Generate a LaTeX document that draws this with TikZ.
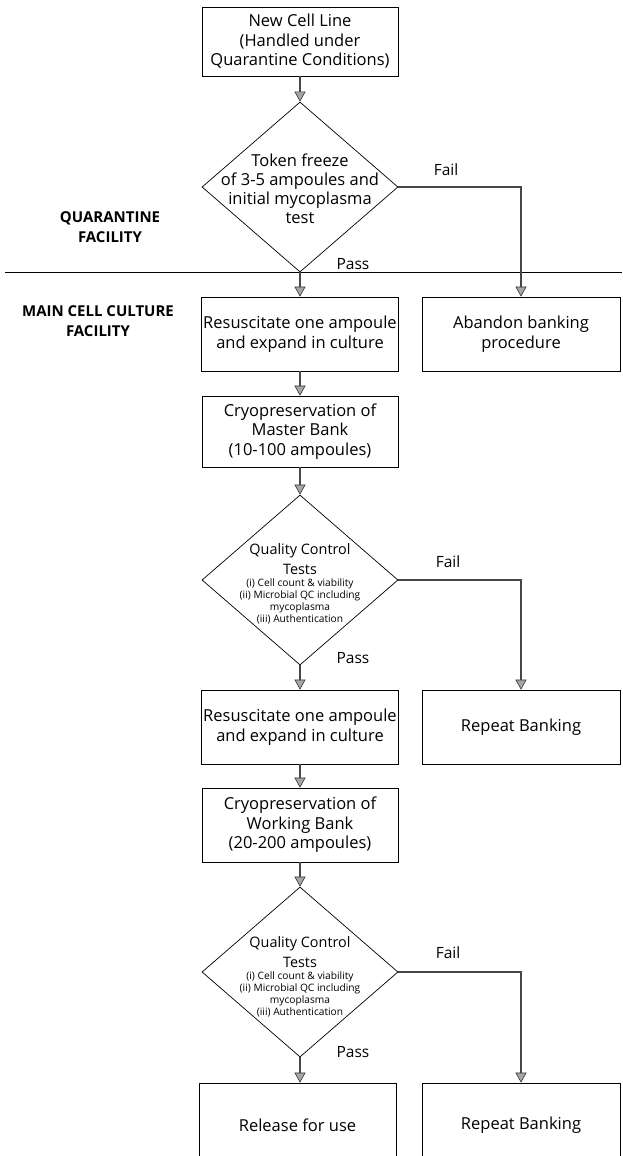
\documentclass[tikz,border=0pt]{standalone}
\usepackage{fontspec}
\setmainfont{Open Sans}
\usetikzlibrary{shapes.geometric,arrows.meta}

\tikzset{
	stage/.style={draw, rectangle, line width=0.7pt, align=center, inner sep=2pt,
		font=\fontsize{16.5}{19.5}\selectfont},
	decision/.style={draw, diamond, line width=0.7pt, inner sep=0pt},
	dlabel/.style={align=center, inner sep=0pt, font=\fontsize{16.5}{19}\selectfont},
	qctitle/.style={align=center, inner sep=0pt, font=\fontsize{14.4}{20}\selectfont},
	qclist/.style={align=center, inner sep=0pt, font=\fontsize{10.2}{12}\selectfont},
	tag/.style={inner sep=0pt, font=\fontsize{15.5}{17}\selectfont},
	area/.style={align=center, inner sep=0pt, font=\bfseries\fontsize{15}{20}\selectfont},
	flow/.style={draw=black!72, line width=2.4pt,
		-{Triangle[width=11pt,length=10pt,fill=gray!70,color=black!80,line width=0.6pt]}}
}

\begin{document}
\begin{tikzpicture}[x=1pt,y=-1pt]
	\useasboundingbox (0,0) rectangle (622,1156);
	\clip (0,0) rectangle (622,1156);

	\node[stage, minimum width=196pt, minimum height=69pt] (newline) at (300,41.5)
		{New Cell Line\\(Handled under\\Quarantine Conditions)};
	\node[decision, minimum width=196pt, minimum height=170pt] (token) at (300,187) {};
	\node[dlabel] (tokentext) at (300,189)
		{Token freeze\\of 3-5 ampoules and\\initial mycoplasma\\test};

	\node[area] (quar) at (110,227) {QUARANTINE\\FACILITY};
	\node[area] (main) at (98,321) {MAIN CELL CULTURE\\FACILITY};
	\draw[line width=0.7pt] (5,272) -- (622,272);

	\node[stage, minimum width=196pt, minimum height=74pt] (resus1) at (300,334)
		{Resuscitate one ampoule\\and expand in culture};
	\node[stage, minimum width=198pt, minimum height=74pt] (abandon) at (521,334)
		{Abandon banking\\procedure};
	\node[stage, minimum width=196pt, minimum height=71pt] (master) at (300,431.5)
		{Cryopreservation of\\Master Bank\\(10-100 ampoules)};

	\node[decision, minimum width=196pt, minimum height=170pt] (qc1) at (300,580) {};
	\node[qctitle] (qc1title) at (300,559) {Quality Control\\Tests};
	\node[qclist] (qc1list) at (300,601)
		{(i) Cell count \& viability\\(ii) Microbial QC including\\mycoplasma\\(iii) Authentication};

	\node[stage, minimum width=196pt, minimum height=74pt] (resus2) at (300,727)
		{Resuscitate one ampoule\\and expand in culture};
	\node[stage, minimum width=198pt, minimum height=74pt] (repeat1) at (521,727)
		{Repeat Banking};
	\node[stage, minimum width=196pt, minimum height=74pt] (working) at (300,825)
		{Cryopreservation of\\Working Bank\\(20-200 ampoules)};

	\node[decision, minimum width=196pt, minimum height=170pt] (qc2) at (300,972) {};
	\node[qctitle] (qc2title) at (300,952) {Quality Control\\Tests};
	\node[qclist] (qc2list) at (300,994)
		{(i) Cell count \& viability\\(ii) Microbial QC including\\mycoplasma\\(iii) Authentication};

	\node[stage, minimum width=197pt, minimum height=84pt] (release) at (297.5,1125)
		{Release for use};
	\node[stage, minimum width=198pt, minimum height=84pt] (repeat2) at (521,1125)
		{Repeat Banking};

	\node[tag] (fail1) at (446,170) {Fail};
	\node[tag] (pass1) at (353,264) {Pass};
	\node[tag] (fail2) at (448,562) {Fail};
	\node[tag] (pass2) at (353,658) {Pass};
	\node[tag] (fail3) at (448,953) {Fail};
	\node[tag] (pass3) at (353,1052) {Pass};

	\draw[flow] (newline) -- (token);
	\draw[flow] (token.south) -- (resus1.north);
	\draw[flow] (token.east) -| (abandon.north);
	\draw[flow] (resus1) -- (master);
	\draw[flow] (master) -- (qc1);
	\draw[flow] (qc1.south) -- (resus2.north);
	\draw[flow] (qc1.east) -| (repeat1.north);
	\draw[flow] (resus2) -- (working);
	\draw[flow] (working) -- (qc2);
	\draw[flow] (qc2.south) -- (qc2.south |- release.north);
	\draw[flow] (qc2.east) -| (repeat2.north);
\end{tikzpicture}
\end{document}
